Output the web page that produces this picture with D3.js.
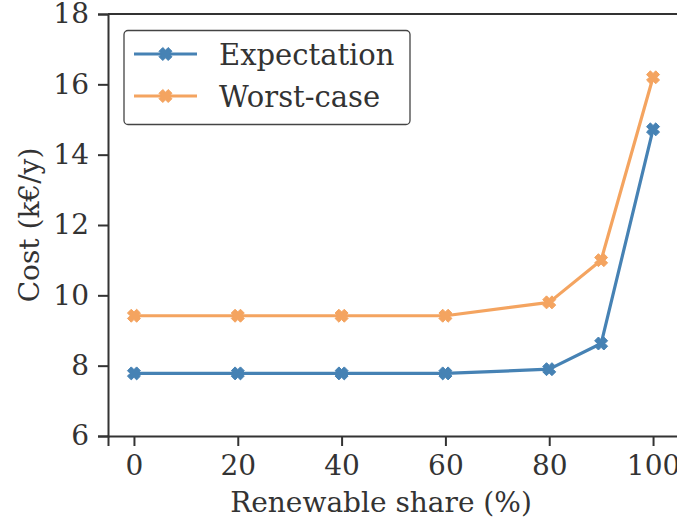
<!DOCTYPE html>
<html>
<head>
<meta charset="utf-8">
<script src="https://cdn.jsdelivr.net/npm/d3@7"></script>
<style>
  body { margin: 0; background: #fff; }
  svg { display: block; }
  text { font-family: "DejaVu Serif", serif; fill: #333; }
</style>
</head>
<body>
<svg id="chart" width="677" height="520"></svg>
<script>
// Renewable share (%) on the x axis
const shares = [0, 20, 40, 60, 80, 90, 100];
// Annual cost in k€/y
const expectation = [7.78, 7.78, 7.78, 7.78, 7.9, 8.63, 14.72];
const worstCase = [9.42, 9.42, 9.42, 9.42, 9.8, 11.0, 16.2];
const seriesNames = ["Expectation", "Worst-case"];
const xTicks = [0, 20, 40, 60, 80, 100];
const yTicks = [6, 8, 10, 12, 14, 16, 18];

const colors = ["#4682b4", "#f4a460"];
const svg = d3.select("#chart");
const margin = { left: 108, top: 14, right: -2, bottom: 84 };
const W = 677, H = 520;

const x = d3.scaleLinear().domain([-5, 105]).range([margin.left, W - margin.right]);
const y = d3.scaleLinear().domain([6, 18]).range([H - margin.bottom, margin.top]);

// Axes
const fs = 28;
const yAxis = svg.append("g").attr("transform", `translate(${margin.left},0)`)
  .call(d3.axisLeft(y).tickValues(yTicks).tickSize(10).tickPadding(9));
const xAxis = svg.append("g").attr("transform", `translate(0,${H - margin.bottom})`)
  .call(d3.axisBottom(x).tickValues(xTicks).tickSize(10).tickPadding(9));
[xAxis, yAxis].forEach(g => {
  g.select(".domain").attr("stroke", "#333").attr("stroke-width", 2);
  g.selectAll(".tick line").attr("stroke", "#333").attr("stroke-width", 2);
  g.selectAll(".tick text").attr("font-size", fs).attr("font-family", "DejaVu Serif").attr("fill", "#333");
});
// top spine
svg.append("line").attr("x1", margin.left).attr("x2", W).attr("y1", margin.top).attr("y2", margin.top)
  .attr("stroke", "#333").attr("stroke-width", 2);

// Axis titles
svg.append("text").attr("x", 381).attr("y", 512)
  .attr("text-anchor", "middle").attr("font-size", fs).text("Renewable share (%)");
svg.append("text").attr("transform", `translate(39,${(margin.top + H - margin.bottom) / 2}) rotate(-90)`)
  .attr("text-anchor", "middle").attr("font-size", fs).text("Cost (k€/y)");

// Filled "X" marker path centred on the origin
function xMarker(r, a) {
  const pts = [[a, 0], [r, r - a], [r - a, r], [0, a], [-(r - a), r], [-r, r - a], [-a, 0],
    [-r, -(r - a)], [-(r - a), -r], [0, -a], [r - a, -r], [r, -(r - a)]];
  return "M" + pts.map(p => p.join(",")).join("L") + "Z";
}
const markerPath = xMarker(6.5, 3.8);

const line = d3.line().x((d, i) => x(shares[i])).y(d => y(d));
const allSeries = [expectation, worstCase];
allSeries.forEach((vals, k) => {
  svg.append("path").datum(vals).attr("d", line).attr("fill", "none")
    .attr("stroke", colors[k]).attr("stroke-width", 3.2).attr("stroke-linejoin", "round");
  svg.selectAll(null).data(vals).enter().append("path")
    .attr("d", markerPath).attr("fill", colors[k])
    .attr("stroke", colors[k]).attr("stroke-width", 1).attr("stroke-linejoin", "round")
    .attr("transform", (d, i) => `translate(${x(shares[i])},${y(d)})`);
});

// Legend
const lg = svg.append("g");
lg.append("rect").attr("x", 124).attr("y", 30.5).attr("width", 286).attr("height", 94).attr("rx", 4)
  .attr("fill", "#fff").attr("fill-opacity", 0.8).attr("stroke", "#444").attr("stroke-width", 1.3);
seriesNames.forEach((name, k) => {
  const cy = 54 + k * 42;
  lg.append("line").attr("x1", 134).attr("x2", 197).attr("y1", cy).attr("y2", cy)
    .attr("stroke", colors[k]).attr("stroke-width", 3.2);
  lg.append("path").attr("d", markerPath).attr("fill", colors[k])
    .attr("stroke", colors[k]).attr("stroke-width", 1).attr("stroke-linejoin", "round")
    .attr("transform", `translate(165.5,${cy})`);
  lg.append("text").attr("x", 219).attr("y", cy + 10.5).attr("font-size", 29).text(name);
});
</script>
</body>
</html>
